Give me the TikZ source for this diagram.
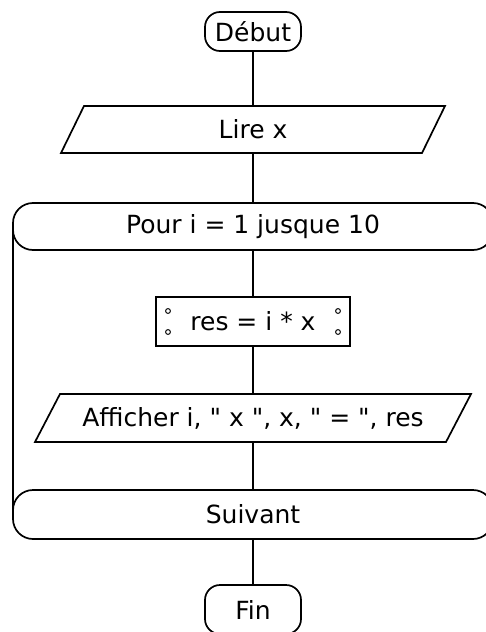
\documentclass[tikz,border=0pt]{standalone}
\usepackage{fontspec}
\setmainfont{DejaVu Sans}
\begin{document}
\begin{tikzpicture}[x=1pt, y=-1pt, line width=1.7pt,
  every node/.style={outer sep=0pt, inner sep=0pt, font=\fontsize{25}{30}\selectfont},
  terminal/.style={draw, rounded corners=15pt, minimum width=96pt},
  loopbox/.style={draw, rounded corners=20pt, minimum width=480pt, minimum height=47pt},
  procbox/.style={draw, minimum width=194pt, minimum height=49pt},
  iobox/.style={minimum height=47pt},
  link/.style={draw},
  dot/.style={line width=1pt}]
  \useasboundingbox (0,0) rectangle (486,632);
  \clip (0,0) rectangle (486,632);

  % flowchart blocks
  \node[terminal, minimum height=39pt] (debut) at (253,31.5) {Début};
  \node[iobox, minimum width=361pt] (lire) at (253,129.5) {Lire x};
  \node[loopbox] (pour) at (253,226.5) {Pour i = 1 jusque 10};
  \node[procbox] (res) at (253,321.5) {res = i * x};
  \node[iobox, minimum width=411pt, minimum height=48pt] (affich) at (253,418)
    {Afficher i, \textquotedbl{} x \textquotedbl, x, \textquotedbl{} = \textquotedbl, res};
  \node[loopbox, minimum height=49pt] (suivant) at (253,514.5) {Suivant};
  \node[terminal, minimum height=49pt] (fin) at (253,609.5) {Fin};

  % input/output parallelograms
  \draw ([xshift=11.5pt]lire.north west) -- ([xshift=11.5pt]lire.north east)
     -- ([xshift=-11.5pt]lire.south east) -- ([xshift=-11.5pt]lire.south west) -- cycle;
  \draw ([xshift=12.5pt]affich.north west) -- ([xshift=12.5pt]affich.north east)
     -- ([xshift=-12.5pt]affich.south east) -- ([xshift=-12.5pt]affich.south west) -- cycle;

  % side marks of the assignment block
  \foreach \dx/\anc in {12/west, -12/east}
    \foreach \dy in {-10.5, 10.5}
      \draw[dot] ([xshift=\dx pt, yshift=\dy pt]res.\anc) circle[radius=2.4pt];

  % connectors
  \path[link] (debut.south) -- (lire.north);
  \path[link] (lire.south) -- (pour.north);
  \path[link] (pour.south) -- (res.north);
  \path[link] (res.south) -- (affich.north);
  \path[link] (affich.south) -- (suivant.north);
  \path[link] (suivant.south) -- (fin.north);
  \path[link] (pour.west) -- (suivant.west);
\end{tikzpicture}
\end{document}
